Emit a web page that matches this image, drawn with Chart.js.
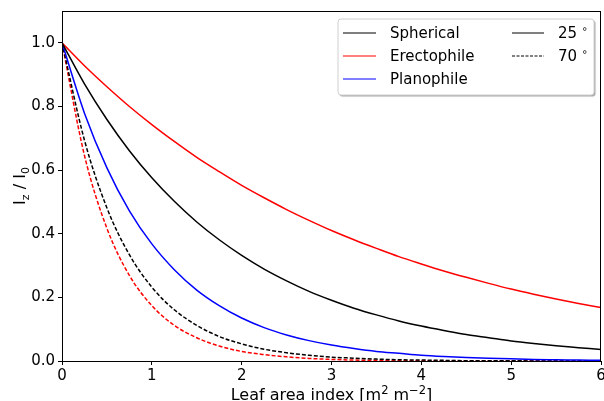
<!DOCTYPE html>
<html>
<head>
<meta charset="utf-8">
<script src="https://cdn.jsdelivr.net/npm/chart.js@4.4.0/dist/chart.umd.min.js"></script>
<style>
  html, body { margin: 0; padding: 0; background: #fff; }
  #wrap { width: 604px; height: 401px; }
</style>
</head>
<body>
<div id="wrap"><canvas id="chartarea" width="604" height="401"></canvas></div>
<script>
// leaf area index, sampled every 0.25
var lai = [0, 0.25, 0.5, 0.75, 1, 1.25, 1.5, 1.75, 2, 2.25, 2.5, 2.75, 3,
           3.25, 3.5, 3.75, 4, 4.25, 4.5, 4.75, 5, 5.25, 5.5, 5.75, 6];

// Iz / I0
var spherical25 = [1.000, 0.871, 0.759, 0.661, 0.576, 0.502, 0.437, 0.381, 0.332, 0.289, 0.252, 0.219, 0.191,
                   0.166, 0.145, 0.126, 0.110, 0.096, 0.083, 0.073, 0.063, 0.055, 0.048, 0.042, 0.036];
var erecto25    = [1.000, 0.928, 0.862, 0.800, 0.743, 0.690, 0.640, 0.595, 0.552, 0.513, 0.476, 0.442, 0.410,
                   0.381, 0.354, 0.328, 0.305, 0.283, 0.263, 0.244, 0.226, 0.210, 0.195, 0.181, 0.168];
var plano25     = [1.000, 0.779, 0.607, 0.472, 0.368, 0.287, 0.223, 0.174, 0.135, 0.105, 0.082, 0.064, 0.050,
                   0.039, 0.030, 0.024, 0.018, 0.014, 0.011, 0.009, 0.007, 0.005, 0.004, 0.003, 0.002];
var spherical70 = [1.000, 0.694, 0.481, 0.334, 0.232, 0.161, 0.112, 0.077, 0.054, 0.037, 0.026, 0.018, 0.012,
                   0.009, 0.006, 0.004, 0.003, 0.002, 0.001, 0.001, 0.001, 0.000, 0.000, 0.000, 0.000];
var erecto70    = [1.000, 0.646, 0.417, 0.269, 0.174, 0.112, 0.073, 0.047, 0.030, 0.020, 0.013, 0.008, 0.005,
                   0.003, 0.002, 0.001, 0.001, 0.000, 0.000, 0.000, 0.000, 0.000, 0.000, 0.000, 0.000];

var leafTypes = ["Spherical", "Erectophile", "Planophile"];
var leafColors = ["#000000", "#ff0000", "#0000ff"];
var angles = ["25", "70"];

var FONT = "'DejaVu Sans', sans-serif";

function pts(ys) {
    return lai.map(function (x, i) { return { x: x, y: ys[i] }; });
}

function line(ys, color, dashed) {
    return {
        data: pts(ys),
        borderColor: color,
        backgroundColor: color,
        borderWidth: 1.5,
        borderDash: dashed ? [4, 2] : [],
        pointRadius: 0,
        cubicInterpolationMode: "monotone",
        fill: false
    };
}

var datasets = [
    line(spherical25, leafColors[0], false),
    line(erecto25, leafColors[1], false),
    line(plano25, leafColors[2], false),
    line(spherical70, leafColors[0], true),
    line(erecto70, leafColors[1], true)
];

// draws [text, size, dy] pieces centred on cx
function pieces(c, parts, cx, y) {
    var w = 0;
    parts.forEach(function (p) { c.font = p[1] + "px " + FONT; w += c.measureText(p[0]).width; });
    var x = cx - w / 2;
    c.textAlign = "left";
    parts.forEach(function (p) {
        c.font = p[1] + "px " + FONT;
        c.fillText(p[0], x, y + p[2]);
        x += c.measureText(p[0]).width;
    });
}

// frame, axis titles and the two-column legend
var decor = {
    id: "decor",
    afterDraw: function (chart) {
        var c = chart.ctx, a = chart.chartArea;
        c.save();
        c.strokeStyle = "#000";
        c.lineWidth = 1;
        c.setLineDash([]);
        c.strokeRect(Math.round(a.left) + 0.5, Math.round(a.top) + 0.5,
                     Math.round(a.right - a.left) - 1, Math.round(a.bottom - a.top));

        // x title
        c.fillStyle = "#000";
        c.textBaseline = "alphabetic";
        pieces(c, [["Leaf area index [m", 16, 0], ["2", 11.5, -6], [" m", 16, 0],
                   ["\u22122", 11.5, -6], ["]", 16, 0]], (a.left + a.right) / 2, 400);

        // y title  I_z / I_0
        c.translate(25, (a.top + a.bottom) / 2);
        c.rotate(-Math.PI / 2);
        pieces(c, [["I", 16, 0], ["z", 11, 4], [" / I", 16, 0], ["0", 11, 4]], 0, 0);
        c.restore();

        // legend box
        c.save();
        var bx = 338, by = 19, bw = 256, bh = 76;
        c.shadowColor = "rgba(0,0,0,0.35)";
        c.shadowOffsetX = 1.5;
        c.shadowOffsetY = 1.5;
        c.shadowBlur = 1;
        c.fillStyle = "#fff";
        c.beginPath();
        c.roundRect(bx, by, bw, bh, 3);
        c.fill();
        c.shadowColor = "transparent";
        c.strokeStyle = "#d0d0d0";
        c.lineWidth = 1;
        c.stroke();

        c.font = "15px " + FONT;
        c.textBaseline = "middle";
        c.textAlign = "left";
        c.fillStyle = "#000";
        var rows = [34, 57, 80];
        leafTypes.forEach(function (name, i) {
            c.strokeStyle = leafColors[i];
            c.lineWidth = 1.2;
            c.beginPath();
            c.moveTo(343, rows[i] - 1);
            c.lineTo(376, rows[i] - 1);
            c.stroke();
            c.fillText(name, 390, rows[i]);
        });
        angles.forEach(function (ang, i) {
            c.strokeStyle = "#000";
            c.lineWidth = 1;
            c.setLineDash(i === 1 ? [3, 1.5] : []);
            c.beginPath();
            c.moveTo(512, rows[i] - 1);
            c.lineTo(544, rows[i] - 1);
            c.stroke();
            c.setLineDash([]);
            c.font = "15px " + FONT;
            c.fillText(ang, 558, rows[i]);
            var tw = c.measureText(ang + " ").width;
            c.font = "10px " + FONT;
            c.fillText("\u2218", 558 + tw, rows[i] - 5);
        });
        c.restore();
    }
};

var ctx = document.getElementById("chartarea");

new Chart(ctx, {
    type: "line",
    data: { datasets: datasets },
    options: {
        animation: false,
        responsive: false,
        layout: { padding: { top: 11, right: 3, left: 0, bottom: 0 } },
        plugins: { legend: { display: false }, tooltip: { enabled: false } },
        scales: {
            x: {
                type: "linear",
                min: 0,
                max: 6,
                afterFit: function (s) { s.height = 40; s.paddingRight = 0; s.paddingLeft = 0; },
                grid: { drawOnChartArea: false, drawTicks: true, tickLength: 4, color: "#000" },
                border: { display: false },
                ticks: { stepSize: 1, color: "#000", padding: 2, maxRotation: 0,
                         font: { family: FONT, size: 15 } }
            },
            y: {
                min: 0,
                max: 1.1,
                afterFit: function (s) { s.width = 62; s.paddingTop = 0; s.paddingBottom = 0; },
                afterBuildTicks: function (s) {
                    s.ticks = s.ticks.filter(function (t) { return t.value <= 1.0001; });
                },
                grid: { drawOnChartArea: false, drawTicks: true, tickLength: 4, color: "#000" },
                border: { display: false },
                ticks: { stepSize: 0.2, color: "#000", padding: 3,
                         font: { family: FONT, size: 15 },
                         callback: function (v) { return v.toFixed(1); } }
            }
        }
    },
    plugins: [decor]
});
</script>
</body>
</html>
